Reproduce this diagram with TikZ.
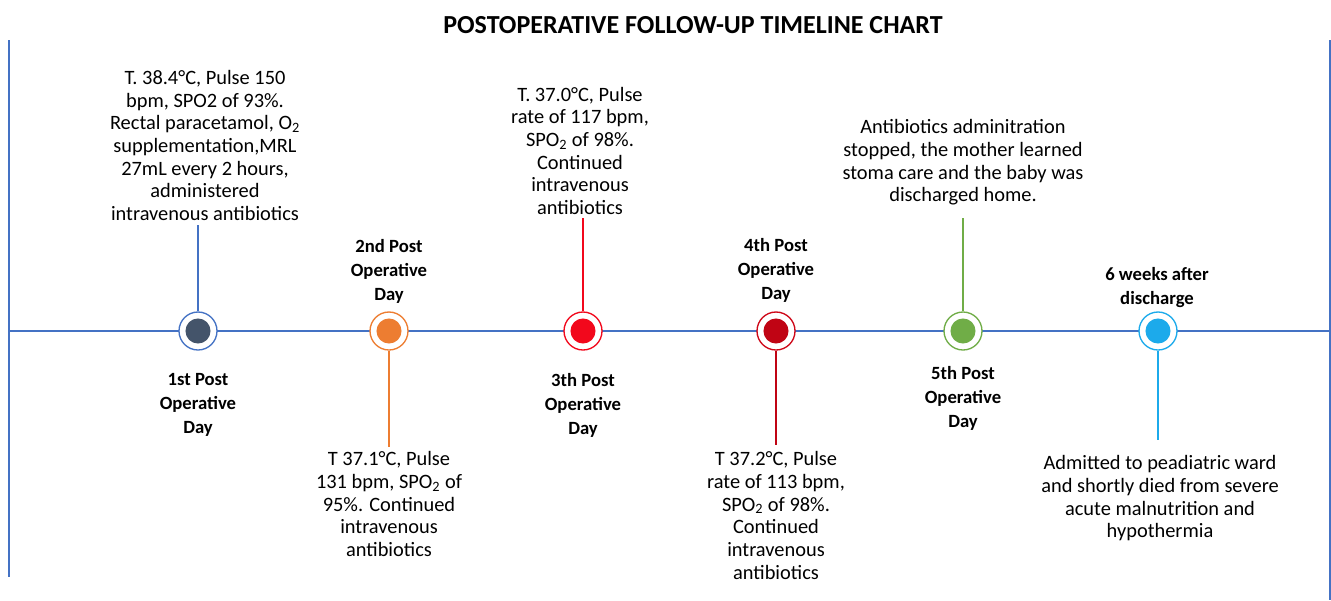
\documentclass[tikz,border=0pt]{standalone}
\usepackage{fontspec}
\setmainfont{Carlito}

\definecolor{lineblue}{RGB}{68,114,196}
\definecolor{navy}{RGB}{68,84,106}
\definecolor{orangeday}{RGB}{237,125,49}
\definecolor{redday}{RGB}{242,8,28}
\definecolor{darkredday}{RGB}{192,4,20}
\definecolor{greenday}{RGB}{112,173,71}
\definecolor{skyday}{RGB}{28,170,235}

\tikzset{every picture/.style={line width=0.75pt}}
\tikzset{
	daymark/.style 2 args={circle, draw=#1, fill=white, line width=1pt, minimum size=28.5pt, inner sep=0pt,
		path picture={\fill[#2] (path picture bounding box.center) circle (9.4pt);}},
	daylabel/.style={font=\fontsize{14}{18}\selectfont\bfseries, align=center, inner sep=0pt},
	notetext/.style={font=\fontsize{15.3}{17}\selectfont, align=center, inner sep=0pt},
	stemline/.style={draw=#1, line width=1.2pt}
}

\begin{document}
\begin{tikzpicture}[x=0.75pt,y=0.75pt,yscale=-1,xscale=1]
			\useasboundingbox (0,0) rectangle (1331,600);
			%Straight Lines [frame]
			\draw [lineblue, line width=1.5pt] (9,40) -- (9,577) ;
			\draw [lineblue, line width=1.5pt] (1330,40) -- (1330,600) ;
			%Straight Lines [timeline]
			\coordinate (tlstart) at (9,331) ;
			\coordinate (tlend) at (1331,331) ;
			\draw [lineblue, line width=1.5pt] (tlstart) -- (tlend) ;

			% Title
			\draw (693,25) node [font=\fontsize{19.5}{22}\selectfont\bfseries] (title) {POSTOPERATIVE FOLLOW-UP TIMELINE CHART};

			%Shape: Circle [day marks]
			\draw (198,331) node [daymark={lineblue}{navy}] (m1) {};
			\draw (389,331) node [daymark={orangeday}{orangeday}] (m2) {};
			\draw (583,331) node [daymark={redday}{redday}] (m3) {};
			\draw (776,331) node [daymark={redday!85!black}{darkredday}] (m4) {};
			\draw (963,331) node [daymark={greenday}{greenday}] (m5) {};
			\draw (1158,331) node [daymark={skyday}{skyday}] (m6) {};

			%Straight Lines [stems]
			\coordinate (s1) at (198,225) ;
			\coordinate (s2) at (389,447) ;
			\coordinate (s3) at (583,218) ;
			\coordinate (s4) at (776,445) ;
			\coordinate (s5) at (963,218) ;
			\coordinate (s6) at (1158,440) ;
			\draw [stemline=lineblue] (s1) -- (m1.north) ;
			\draw [stemline=orangeday] (m2.south) -- (s2) ;
			\draw [stemline=redday] (s3) -- (m3.north) ;
			\draw [stemline=darkredday] (m4.south) -- (s4) ;
			\draw [stemline=greenday] (s5) -- (m5.north) ;
			\draw [stemline=skyday] (m6.south) -- (s6) ;

			% Text Node
			\draw (198,405) node [daylabel] (d1) {1st Post\\Operative\\Day};
			% Text Node
			\draw (389,271) node [daylabel] (d2) {2nd Post\\Operative\\Day};
			% Text Node
			\draw (583,405) node [daylabel] (d3) {3th Post\\Operative\\Day};
			% Text Node
			\draw (776,270) node [daylabel] (d4) {4th Post\\Operative\\Day};
			% Text Node
			\draw (963,398) node [daylabel] (d5) {5th Post\\Operative\\Day};
			% Text Node
			\draw (1157,288) node [daylabel] (d6) {6 weeks after\\discharge};

			% Text Node
			\draw (205,221) node [notetext, anchor=south] (n1) {T. 38.4°C, Pulse 150\\bpm, SPO2 of 93\%.\\Rectal paracetamol, O\textsubscript{2}\\supplementation,MRL\\27mL every 2 hours,\\administered\\intravenous antibiotics};
			% Text Node
			\draw (389,451) node [notetext, anchor=north] (n2) {T 37.1°C, Pulse\\131 bpm, SPO\textsubscript{2} of\\95\%. Continued\\intravenous\\antibiotics};
			% Text Node
			\draw (580,215) node [notetext, anchor=south] (n3) {T. 37.0°C, Pulse\\rate of 117 bpm,\\SPO\textsubscript{2} of 98\%.\\Continued\\intravenous\\antibiotics};
			% Text Node
			\draw (776,451) node [notetext, anchor=north] (n4) {T 37.2°C, Pulse\\rate of 113 bpm,\\SPO\textsubscript{2} of 98\%.\\Continued\\intravenous\\antibiotics};
			% Text Node
			\draw (963,206) node [notetext, anchor=south] (n5) {Antibiotics adminitration\\stopped, the mother learned\\stoma care and the baby was\\discharged home.};
			% Text Node
			\draw (1160,455) node [notetext, anchor=north] (n6) {Admitted to peadiatric ward\\and shortly died from severe\\acute malnutrition and\\hypothermia};

		\end{tikzpicture}
\end{document}
